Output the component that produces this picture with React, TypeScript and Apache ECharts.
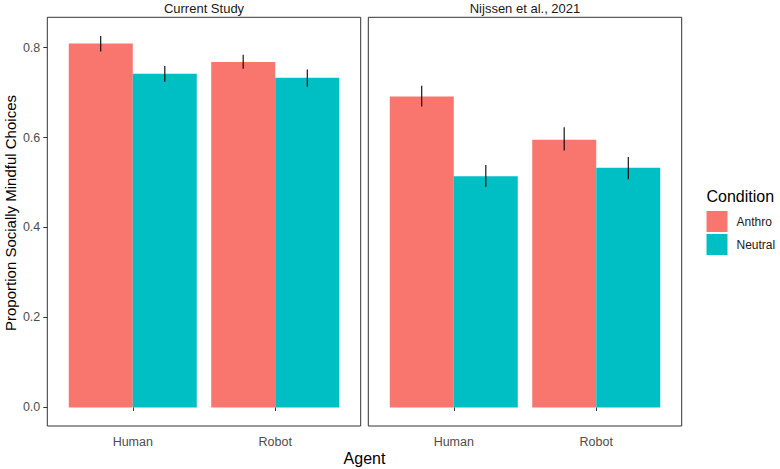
import React, { useEffect, useRef } from "react";
import * as echarts from "echarts";

// Facets, x categories and fill groups
const studies = ["Current Study", "Nijssen et al., 2021"];
const agents = ["Human", "Robot"];
const conditions = ["Anthro", "Neutral"];
const yTicks = [0, 0.2, 0.4, 0.6, 0.8];

// Mean proportions per facet: [Human, Robot]
const anthroMean = [
  [0.809, 0.768],
  [0.691, 0.595],
];
const neutralMean = [
  [0.742, 0.733],
  [0.514, 0.533],
];
// Error bar bounds (lower / upper)
const anthroLow = [
  [0.791, 0.753],
  [0.669, 0.571],
];
const anthroHigh = [
  [0.826, 0.784],
  [0.715, 0.623],
];
const neutralLow = [
  [0.724, 0.713],
  [0.49, 0.507],
];
const neutralHigh = [
  [0.759, 0.751],
  [0.539, 0.557],
];

const COLORS = ["#F8766D", "#00BFC4"];

// Panel layout (pixels)
const PANEL_TOP = 17.3;
const PANEL_H = 408.7;
const PANEL_W = 313.4;
const PANEL_LEFT = [47.3, 368.3];
const BAR_W = 64;
const DODGE = 0.225; // half of the dodged bar width in category units
const FONT = "Liberation Sans, Arial, sans-serif";

export default function App() {
  const ref = useRef<HTMLDivElement>(null);

  useEffect(() => {
    if (!ref.current) return;
    const chart = echarts.init(ref.current, null, { renderer: "svg" });

    const allHigh = [...anthroHigh.flat(), ...neutralHigh.flat()];
    const top = Math.max(...allHigh);
    const yMin = -0.05 * top;
    const yMax = top * 1.05;

    const grids = PANEL_LEFT.map((left) => ({
      left,
      top: PANEL_TOP,
      width: PANEL_W,
      height: PANEL_H,
      show: true,
      borderColor: "#333333",
      borderWidth: 1,
      backgroundColor: "transparent",
      containLabel: false,
      outerBoundsMode: "none",
    }));

    const xAxes = PANEL_LEFT.map((_, i) => ({
      type: "value",
      gridIndex: i,
      min: 0.4,
      max: agents.length + 0.6,
      splitLine: { show: false },
      axisLine: { show: false },
      axisTick: {
        show: true,
        customValues: agents.map((_, k) => k + 1),
        length: 3.5,
        lineStyle: { color: "#333333", width: 1 },
      },
      axisLabel: {
        show: true,
        customValues: agents.map((_, k) => k + 1),
        formatter: (v: number) => agents[Math.round(v) - 1] ?? "",
        color: "#4d4d4d",
        fontSize: 12.5,
        fontFamily: FONT,
        margin: 9,
      },
    }));

    const yAxes = PANEL_LEFT.map((_, i) => ({
      type: "value",
      gridIndex: i,
      min: yMin,
      max: yMax,
      splitLine: { show: false },
      axisLine: { show: false },
      axisTick: {
        show: i === 0,
        customValues: yTicks,
        length: 4,
        lineStyle: { color: "#333333", width: 1 },
      },
      axisLabel: {
        show: i === 0,
        customValues: yTicks,
        formatter: (v: number) => v.toFixed(1),
        color: "#4d4d4d",
        fontSize: 12.5,
        fontFamily: FONT,
        margin: 7,
      },
    }));

    const errorRender = (params: any, api: any) => {
      const p1 = api.coord([api.value(0), api.value(1)]);
      const p2 = api.coord([api.value(0), api.value(2)]);
      return {
        type: "line",
        shape: { x1: p1[0], y1: p1[1], x2: p2[0], y2: p2[1] },
        style: { stroke: "#000000", lineWidth: 1.1 },
      };
    };

    const series: any[] = [];
    studies.forEach((_, f) => {
      series.push({
        type: "bar",
        name: conditions[0],
        xAxisIndex: f,
        yAxisIndex: f,
        barWidth: BAR_W,
        barGap: "0%",
        itemStyle: { color: COLORS[0] },
        data: agents.map((_, k) => [k + 1, anthroMean[f][k]]),
      });
      series.push({
        type: "bar",
        name: conditions[1],
        xAxisIndex: f,
        yAxisIndex: f,
        barWidth: BAR_W,
        barGap: "0%",
        itemStyle: { color: COLORS[1] },
        data: agents.map((_, k) => [k + 1, neutralMean[f][k]]),
      });
      series.push({
        type: "custom",
        xAxisIndex: f,
        yAxisIndex: f,
        renderItem: errorRender,
        z: 10,
        data: [
          ...agents.map((_, k) => [k + 1 - DODGE, anthroLow[f][k], anthroHigh[f][k]]),
          ...agents.map((_, k) => [k + 1 + DODGE, neutralLow[f][k], neutralHigh[f][k]]),
        ],
      });
    });

    const graphics: any[] = studies.map((s, f) => ({
      type: "text",
      x: PANEL_LEFT[f] + PANEL_W / 2,
      y: 8,
      style: {
        text: s,
        fill: "#1a1a1a",
        font: `13px ${FONT}`,
        align: "center",
        verticalAlign: "middle",
      },
    }));
    // y-axis title, centred on the panels plus strips
    graphics.push({
      type: "text",
      x: 10,
      y: (PANEL_TOP + PANEL_H) / 2,
      rotation: Math.PI / 2,
      style: {
        text: "Proportion Socially Mindful Choices",
        fill: "#000000",
        font: `15px ${FONT}`,
        align: "center",
        verticalAlign: "middle",
      },
    });
    graphics.push({
      type: "text",
      x: (PANEL_LEFT[0] + PANEL_LEFT[1] + PANEL_W) / 2,
      y: 458,
      style: {
        text: "Agent",
        fill: "#000000",
        font: `16px ${FONT}`,
        align: "center",
        verticalAlign: "middle",
      },
    });
    graphics.push({
      type: "text",
      x: 706.5,
      y: 196,
      style: {
        text: "Condition",
        fill: "#000000",
        font: `16px ${FONT}`,
        align: "left",
        verticalAlign: "middle",
      },
    });

    chart.setOption({
      animation: false,
      backgroundColor: "#ffffff",
      grid: grids,
      xAxis: xAxes,
      yAxis: yAxes,
      series,
      legend: {
        data: conditions.map((c, i) => ({ name: c, itemStyle: { color: COLORS[i] } })),
        orient: "vertical",
        left: 706.5,
        top: 211,
        padding: 0,
        itemWidth: 21,
        itemHeight: 21,
        itemGap: 2,
        icon: "rect",
        selectedMode: false,
        textStyle: {
          color: "#1a1a1a",
          fontSize: 12,
          fontFamily: FONT,
          padding: [0, 0, 0, 4],
        },
      },
      graphic: graphics,
    });

    return () => chart.dispose();
  }, []);

  return (
    <div
      ref={ref}
      style={{ position: "fixed", left: 0, top: 0, width: 780, height: 469 }}
    />
  );
}
